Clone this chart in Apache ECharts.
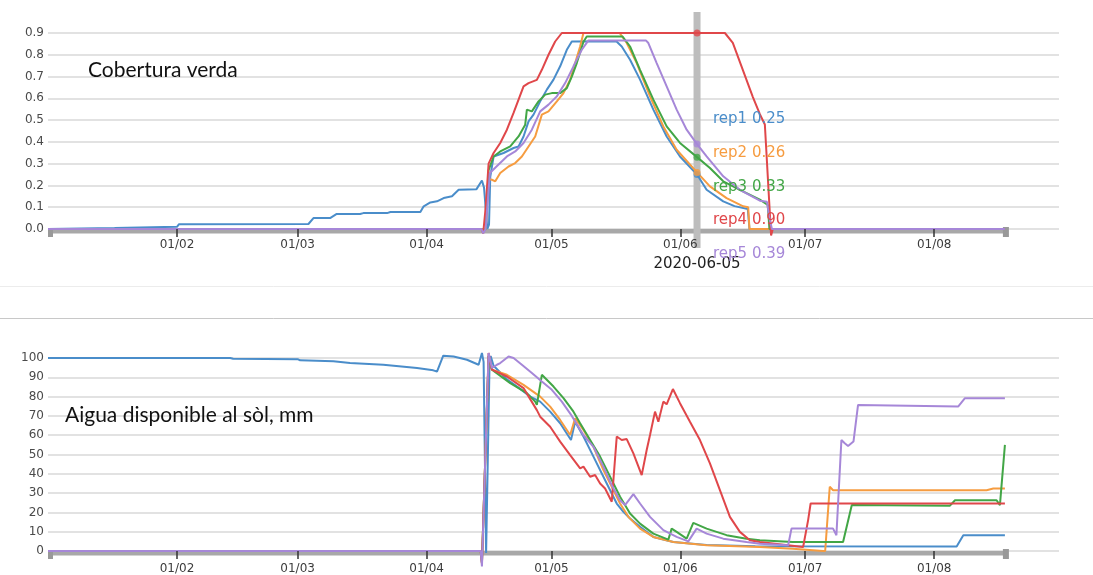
<!DOCTYPE html>
<html><head><meta charset="utf-8">
<script src="https://cdn.jsdelivr.net/npm/echarts@6/dist/echarts.min.js"></script>
<style>html,body{margin:0;padding:0;background:#fff}#c{width:1093px;height:575px}</style>
</head><body><div id="c"></div>
<script>
// ---------- data (x = days since 2020-01-01) ----------
const seriesNames = ['rep1', 'rep2', 'rep3', 'rep4', 'rep5'];
const seriesColors = ['#4a8dca', '#f69c40', '#42a646', '#e0474a', '#a687d8'];
const monthTicks = ['2020-02-01', '2020-03-01', '2020-04-01', '2020-05-01', '2020-06-01', '2020-07-01', '2020-08-01'];
const axisStart = '2020-01-01';
const axisEnd = '2020-08-31';
const cursorDate = '2020-06-05';
const cursorValues = [0.25, 0.26, 0.33, 0.90, 0.39];
const titleCover = 'Cobertura verda';
const titleWater = 'Aigua disponible al sòl, mm';
const coverTicks = [0, 0.9, 0.1];
const waterTicks = [0, 100, 10];

const coverRep1 = [[0,0],[16,0.005],[31,0.01],[31.5,0.022],[62.6,0.023],[63.8,0.05],[67.8,0.05],[69.4,0.069],[75,0.069],[75.8,0.073],[81.5,0.073],[82.3,0.078],[89.5,0.078],[90.3,0.104],[91.9,0.122],[93.5,0.127],[95.1,0.142],[97.1,0.15],[98.7,0.18],[103,0.183],[104.3,0.223],[104.8,0.19],[105.6,0],[106.0,0.02],[106.3,0.24],[107.1,0.333],[109.5,0.349],[111.9,0.372],[113.1,0.379],[114.3,0.425],[115.5,0.494],[116.7,0.525],[118.3,0.586],[119.9,0.64],[121.5,0.686],[123.1,0.747],[124.7,0.823],[125.9,0.861],[136.6,0.862],[137.9,0.838],[139.9,0.777],[142.3,0.686],[145.5,0.548],[148.7,0.425],[151.9,0.333],[156,0.25],[158.3,0.18],[162.3,0.127],[165,0.105],[168.2,0.092],[168.6,0],[230,0]];
const coverRep2 = [[0,0],[104.2,0],[104.7,-0.01],[105.2,0],[105.9,0.23],[106.7,0.226],[107.5,0.219],[108.7,0.257],[110.7,0.287],[112.3,0.303],[113.9,0.333],[115.5,0.379],[117.1,0.425],[118.7,0.525],[120.3,0.54],[122.3,0.586],[123.9,0.624],[125.5,0.686],[126.7,0.762],[127.9,0.838],[128.7,0.9],[137.4,0.9],[139.1,0.854],[141.5,0.762],[144.7,0.609],[147.9,0.471],[151.1,0.364],[156,0.26],[159.1,0.196],[163.1,0.142],[167.1,0.104],[168.3,0.1],[168.6,0],[230,0]];
const coverRep3 = [[0,0],[104.2,0],[104.7,-0.01],[105.2,0],[105.9,0.27],[107.1,0.333],[108.7,0.356],[111.1,0.379],[113.1,0.425],[114.7,0.479],[115.1,0.548],[116.3,0.54],[117.9,0.586],[119.5,0.617],[121.1,0.624],[123.1,0.624],[124.7,0.647],[125.9,0.7],[127.1,0.762],[128.7,0.86],[129.5,0.884],[138.1,0.884],[139.9,0.838],[142.3,0.731],[145.5,0.594],[148.7,0.471],[151.9,0.395],[156,0.33],[159.1,0.28],[162.3,0.219],[166.3,0.18],[171.1,0.135],[173,0.11],[173.4,0],[230,0]];
const coverRep4 = [[0,0],[104.2,0],[104.6,-0.02],[105.2,0.1],[105.9,0.3],[107.1,0.349],[108.7,0.395],[110.3,0.456],[111.9,0.533],[113.1,0.594],[114.3,0.655],[115.5,0.67],[117.5,0.685],[118.7,0.731],[120.3,0.8],[121.9,0.861],[123.5,0.9],[156,0.9],[162.7,0.9],[164.6,0.855],[167,0.731],[169.4,0.607],[171.1,0.527],[172.3,0.48],[173.8,-0.03],[174.2,0],[230,0]];
const coverRep5 = [[0,0],[104.2,0],[104.6,-0.02],[105.2,0],[106.2,0.257],[107.8,0.287],[110.3,0.333],[112.3,0.356],[114.3,0.395],[116.3,0.456],[118.3,0.54],[120.3,0.571],[122.3,0.609],[124.3,0.67],[126.3,0.747],[128.3,0.823],[129.9,0.866],[143.7,0.866],[144.3,0.854],[146.3,0.762],[148.7,0.655],[151.1,0.548],[153.5,0.456],[156,0.39],[158.3,0.333],[162.3,0.242],[166.3,0.18],[171.1,0.13],[172.8,0.125],[173.3,0.06],[174,0],[230,0]];

const waterRep1 = [[0,100],[43.8,100],[44.5,99.6],[60,99.4],[60.6,98.8],[68.6,98.3],[72.6,97.4],[80.6,96.5],[88.7,94.8],[92.6,93.6],[93.5,93],[95,101.2],[97.5,100.8],[100.7,99.1],[103.5,96.5],[104.3,102.6],[104.7,98],[105.3,-1],[105.7,-1],[106.1,94],[106.4,101],[107.1,96],[110.3,89],[113.5,84],[115.9,80],[118.3,77.4],[120.7,72.2],[123.1,66.2],[125.7,57.5],[126.7,67],[128.7,59.3],[131.1,48.9],[134.3,35],[136.7,24.6],[138.3,20.3],[139.9,16.8],[142.3,12.5],[145.5,7.3],[150.3,4.7],[158.3,3.1],[170,2.5],[218.4,2.3],[220,8.2],[230,8.2]];
const waterRep2 = [[0,0],[104.0,0],[104.3,-6],[105.9,101],[106.7,94],[110.3,91.3],[114.3,86.1],[118.3,80],[120.7,74.8],[123.1,67.9],[125.5,60.1],[125.9,59.3],[126.7,68.8],[128.7,62.7],[131.1,54],[133.5,41.9],[135.5,33.3],[137.5,24.6],[139.5,17.7],[142.3,11.6],[145.5,7.3],[150.3,4.7],[158.3,3],[171.1,2.1],[179,1.2],[186.3,0],[186.8,0],[187.9,33.3],[188.7,31.5],[225.6,31.5],[227.2,32.4],[230,32.4]];
const waterRep3 = [[0,0],[104.0,0],[104.3,-6],[105.9,101],[106.7,94],[111.1,87],[115.1,81.8],[117.1,77.4],[117.5,75.7],[118.7,91.3],[119.1,92.2],[121.5,85.2],[123.9,79.2],[126.3,72.2],[127.9,66.2],[130.3,57.5],[132.7,48.9],[135.1,38.5],[137.5,28.1],[139.9,19.4],[142.3,14.2],[145.5,9],[149.1,5.9],[149.9,11.6],[151.1,9.9],[153.5,6.4],[155.1,14.6],[158.3,11.6],[163.1,8.2],[167.9,6.4],[171.1,5.6],[179,4.7],[191.1,4.7],[193.2,23.8],[216.8,23.5],[218,26.3],[228,26.3],[228.8,23.8],[230,55]];
const waterRep4 = [[0,0],[104.0,0],[104.3,-6.4],[105.9,102.6],[106.7,94],[110.3,90.4],[114.3,84.4],[117.5,73],[118.3,69.6],[120.7,64.4],[123.1,56.7],[125.5,49.7],[127.9,42.8],[128.7,43.7],[130.3,38.5],[131.5,39.4],[132.7,35],[133.9,32.4],[135.5,25.5],[136.7,59.3],[137.9,57.5],[139.1,58],[140.7,50.6],[142.7,39.3],[143.9,52.3],[144.7,60.1],[145.9,72.2],[146.7,67],[147.9,77.4],[148.7,76],[150.2,83.9],[151.9,76.6],[154.3,67],[156.7,57.5],[159.1,45.4],[161.5,31.5],[163.9,17.7],[166.3,9.9],[168.7,5.6],[171.1,4.7],[181.5,2.1],[182.7,16],[183.3,24.6],[230,24.6]];
const waterRep5 = [[0,0],[104.0,0],[104.3,-8],[105.9,102.6],[106.7,94.8],[107.9,96.5],[108.7,97.4],[110.7,100.8],[111.9,100],[113.9,96.5],[116.3,92.2],[118.7,87.8],[121.1,83.5],[123.5,77.4],[125.9,70],[128.7,60.1],[131.1,54],[133.5,43.7],[135.5,34.1],[137.5,26.3],[138.7,23.8],[140.7,29.5],[142.3,24.6],[144.7,17.7],[147.9,10.8],[151.1,7.3],[153.9,5],[155.9,11.6],[158.3,9],[162.3,6.4],[167.9,4.7],[171.1,3.8],[177.9,3],[178.7,11.6],[188.7,11.6],[189.5,8.2],[190.7,57.5],[191.5,55.8],[192.3,54.4],[193.6,56.7],[194.7,75.7],[218.8,74.9],[220.4,79.2],[230,79.2]];

// ---------- build ----------
const coverSeries = [coverRep1, coverRep2, coverRep3, coverRep4, coverRep5];
const waterSeries = [waterRep1, waterRep2, waterRep3, waterRep4, waterRep5];

function parseDate(s) { const p = s.split('-').map(Number); return new Date(p[0], p[1] - 1, p[2]).getTime(); }
const T0 = parseDate(axisStart);
const DAY = 86400000;
const toT = d => T0 + d * DAY;
const pad = n => (n < 10 ? '0' : '') + n;
const fmtDay = v => { const dt = new Date(v); return pad(dt.getDate()) + '/' + pad(dt.getMonth() + 1); };
const tickTimes = monthTicks.map(parseDate);
const cursorT = parseDate(cursorDate);
const dataEnd = toT(Math.max(...coverSeries.concat(waterSeries).map(s => s[s.length - 1][0])));

const FONT = '"DejaVu Sans", Verdana, sans-serif';
const TITLE_FONT = '21px Lato, "Open Sans", sans-serif';
const grids = [
  { left: 48, top: 33, width: 1011, height: 196 },
  { left: 48, top: 358, width: 1011, height: 193 }
];
const yDefs = [coverTicks, waterTicks];

const option = {
  animation: false,
  backgroundColor: '#fff',
  grid: grids,
  xAxis: grids.map((g, i) => ({
    type: 'value', gridIndex: i, min: T0, max: parseDate(axisEnd),
    axisLine: { show: false },
    splitLine: { show: false },
    axisTick: { show: true, customValues: tickTimes, length: 8, lineStyle: { color: '#333', width: 1.5 } },
    axisLabel: { customValues: tickTimes, formatter: fmtDay, margin: i ? 12 : 10, fontSize: 12, color: '#3c3c3c', fontFamily: FONT },
    z: 4
  })),
  yAxis: yDefs.map((d, i) => ({
    type: 'value', gridIndex: i, min: d[0], max: d[1], interval: d[2],
    axisLine: { show: false }, axisTick: { show: false },
    splitLine: { lineStyle: { color: '#d9d9d9', width: 1.5 } },
    axisLabel: { formatter: v => i === 0 ? v.toFixed(1) : String(Math.round(v)), margin: 4, fontSize: 12, color: '#4a4a4a', fontFamily: FONT }
  })),
  series: []
};

[coverSeries, waterSeries].forEach((group, gi) => {
  group.forEach((arr, k) => {
    option.series.push({
      name: seriesNames[k] + (gi ? '_water' : '_cover'),
      type: 'line', xAxisIndex: gi, yAxisIndex: gi,
      data: arr.map(p => [toT(p[0]), p[1]]),
      symbol: 'none', showSymbol: false, clip: false, silent: true,
      lineStyle: { width: 2, color: seriesColors[k] },
      itemStyle: { color: seriesColors[k] },
      z: 3
    });
  });
  if (gi === 0) {
    option.series.push({
      type: 'scatter', xAxisIndex: 0, yAxisIndex: 0, silent: true,
      data: cursorValues.map((v, k) => ({ value: [cursorT, v], itemStyle: { color: seriesColors[k] } })),
      symbolSize: 7, z: 6
    });
  }
});

const chart = echarts.init(document.getElementById('c'));
chart.setOption(option);

const px = (gi, t) => chart.convertToPixel({ xAxisIndex: gi }, t);
const py = (gi, v) => chart.convertToPixel({ yAxisIndex: gi }, v);

const g = [];
g.push({ type: 'line', shape: { x1: 0, y1: 286.5, x2: 1093, y2: 286.5 }, style: { stroke: '#ececec', lineWidth: 1 }, z: 0 });
g.push({ type: 'line', shape: { x1: 0, y1: 318.5, x2: 1093, y2: 318.5 }, style: { stroke: '#c8c8c8', lineWidth: 1 }, z: 0 });
[0, 1].forEach(gi => {
  const x0 = px(gi, T0), x1 = px(gi, dataEnd), y0 = py(gi, 0);
  g.push({ type: 'rect', shape: { x: x0, y: y0, width: x1 - x0 + 3, height: 4.5 }, style: { fill: '#a8a8a8' }, z: 1 });
  g.push({ type: 'rect', shape: { x: x0, y: y0 + 1, width: 5, height: 7 }, style: { fill: '#999' }, z: 1 });
  g.push({ type: 'rect', shape: { x: x1 - 2, y: y0 - 2, width: 6, height: 10 }, style: { fill: '#999' }, z: 1 });
});
const cx = px(0, cursorT);
g.push({ type: 'rect', shape: { x: cx - 3.5, y: 12, width: 7, height: 236 }, style: { fill: '#bdbdbd' }, z: 1 });
g.push({ type: 'text', x: cx, y: 264, style: { text: cursorDate, font: '15px ' + FONT, fill: '#222', align: 'center', verticalAlign: 'middle' }, z: 10 });
cursorValues.forEach((v, k) => {
  g.push({ type: 'text', x: cx + 16, y: 119.5 + k * 33.6, style: { text: seriesNames[k] + ' ' + v.toFixed(2), font: '15px ' + FONT, fill: seriesColors[k], align: 'left', verticalAlign: 'middle' }, z: 10 });
});
g.push({ type: 'text', x: 88, y: 70, style: { text: titleCover, font: TITLE_FONT, fill: '#111', align: 'left', verticalAlign: 'middle' }, z: 10 });
g.push({ type: 'text', x: 65, y: 415, style: { text: titleWater, font: TITLE_FONT, fill: '#111', align: 'left', verticalAlign: 'middle' }, z: 10 });

chart.setOption({ graphic: { elements: g } });
</script>
</body></html>
